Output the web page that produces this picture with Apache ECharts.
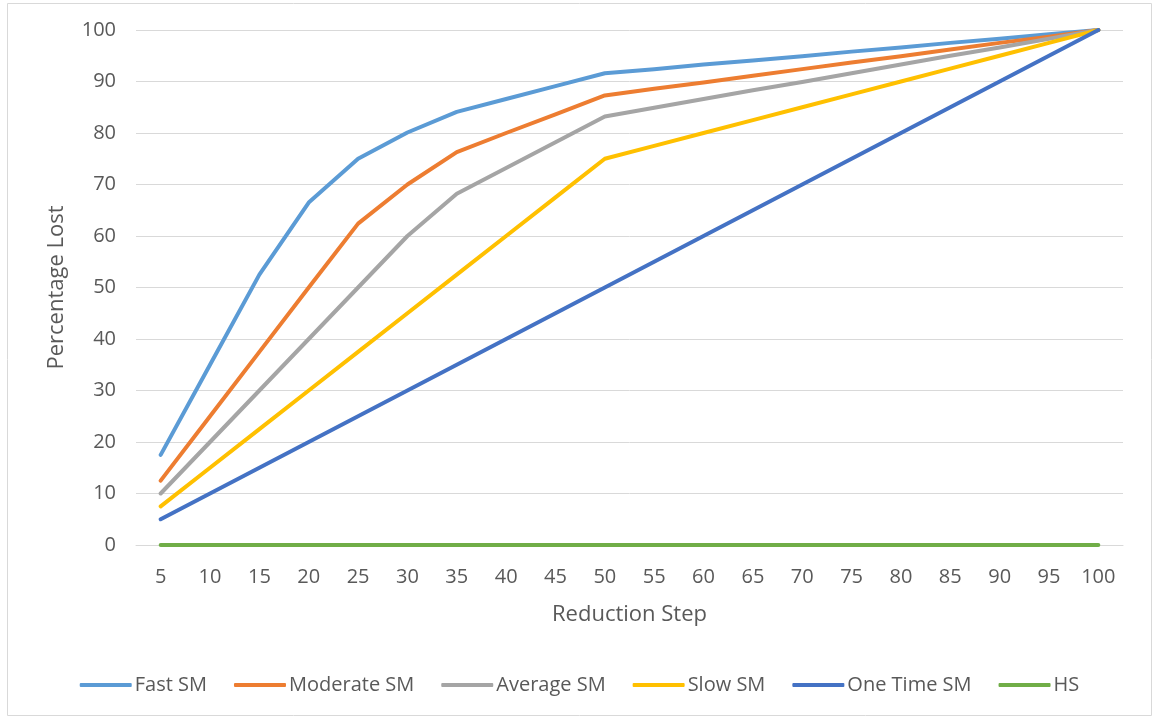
<!DOCTYPE html>
<html><head><meta charset="utf-8">
<script src="https://cdn.jsdelivr.net/npm/echarts@6/dist/echarts.min.js"></script>
<style>html,body{margin:0;padding:0;background:#fff}#c{width:1159px;height:721px}</style>
</head><body><div id="c"></div>
<script>
const steps = ['5','10','15','20','25','30','35','40','45','50','55','60','65','70','75','80','85','90','95','100'];
const fastSM     = [17.5, 35, 52.5, 66.5, 75, 80.1, 84.1, 86.6, 89.1, 91.6, 92.4, 93.3, 94.1, 94.9, 95.8, 96.6, 97.5, 98.3, 99.2, 100];
const moderateSM = [12.5, 25, 37.5, 50, 62.4, 70, 76.3, 80, 83.6, 87.3, 88.6, 89.8, 91.1, 92.4, 93.7, 94.9, 96.2, 97.5, 98.7, 100];
const averageSM  = [10, 20, 30, 40, 50, 60, 68.2, 73.2, 78.2, 83.2, 84.9, 86.6, 88.3, 89.9, 91.6, 93.3, 95, 96.6, 98.3, 100];
const slowSM     = [7.5, 15, 22.5, 30, 37.5, 45, 52.5, 60, 67.5, 75, 77.5, 80, 82.5, 85, 87.5, 90, 92.5, 95, 97.5, 100];
const oneTimeSM  = [5, 10, 15, 20, 25, 30, 35, 40, 45, 50, 55, 60, 65, 70, 75, 80, 85, 90, 95, 100];
const hs         = [0, 0, 0, 0, 0, 0, 0, 0, 0, 0, 0, 0, 0, 0, 0, 0, 0, 0, 0, 0];
const seriesNames = ['Fast SM','Moderate SM','Average SM','Slow SM','One Time SM','HS'];
const seriesData = [fastSM, moderateSM, averageSM, slowSM, oneTimeSM, hs];
const colors = ['#5B9BD5','#ED7D31','#A5A5A5','#FFC000','#4472C4','#70AD47'];
const yTicks = [0,10,20,30,40,50,60,70,80,90,100];

const chart = echarts.init(document.getElementById('c'), null, {renderer:'canvas'});
const font = 'Open Sans';
chart.setOption({
  animation:false,
  color: colors,
  graphic:[{type:'rect', shape:{x:7.5,y:3.5,width:1144,height:712}, style:{fill:'none',stroke:'#D9D9D9',lineWidth:1}, silent:true}],
  grid:{left:136, right:36, top:30, bottom:176, containLabel:false},
  legend:{
    bottom:21, left:'center', itemGap:27, itemWidth:52, itemHeight:4,
    icon:'roundRect',
    textStyle:{fontFamily:font, fontSize:20, color:'#595959', padding:[0,0,0,-2]},
    data: seriesNames
  },
  xAxis:{
    type:'category', data: steps, boundaryGap:true,
    name:'Reduction Step', nameLocation:'middle', nameGap:59,
    nameTextStyle:{fontFamily:font, fontSize:22, color:'#595959'},
    axisLine:{show:true, lineStyle:{color:'#D9D9D9'}},
    axisTick:{show:false},
    axisLabel:{fontFamily:font, fontSize:20, color:'#595959', margin:22, interval:0}
  },
  yAxis:{
    type:'value', min:0, max:100, interval:10,
    name:'Percentage Lost', nameLocation:'middle', nameGap:68,
    nameTextStyle:{fontFamily:font, fontSize:22, color:'#595959'},
    axisLine:{show:false}, axisTick:{show:false},
    axisLabel:{fontFamily:font, fontSize:20, color:'#595959', margin:20,
      formatter: v => yTicks.includes(v) ? String(v) : ''},
    splitLine:{show:true, lineStyle:{color:'#D9D9D9', width:1}}
  },
  series: seriesNames.map((n,i)=>({
    name:n, type:'line', data: seriesData[i], symbol:'none', smooth:false,
    lineStyle:{width:4, color:colors[i], cap:'round', join:'round'},
    itemStyle:{color:colors[i]}
  }))
});
</script></body></html>
